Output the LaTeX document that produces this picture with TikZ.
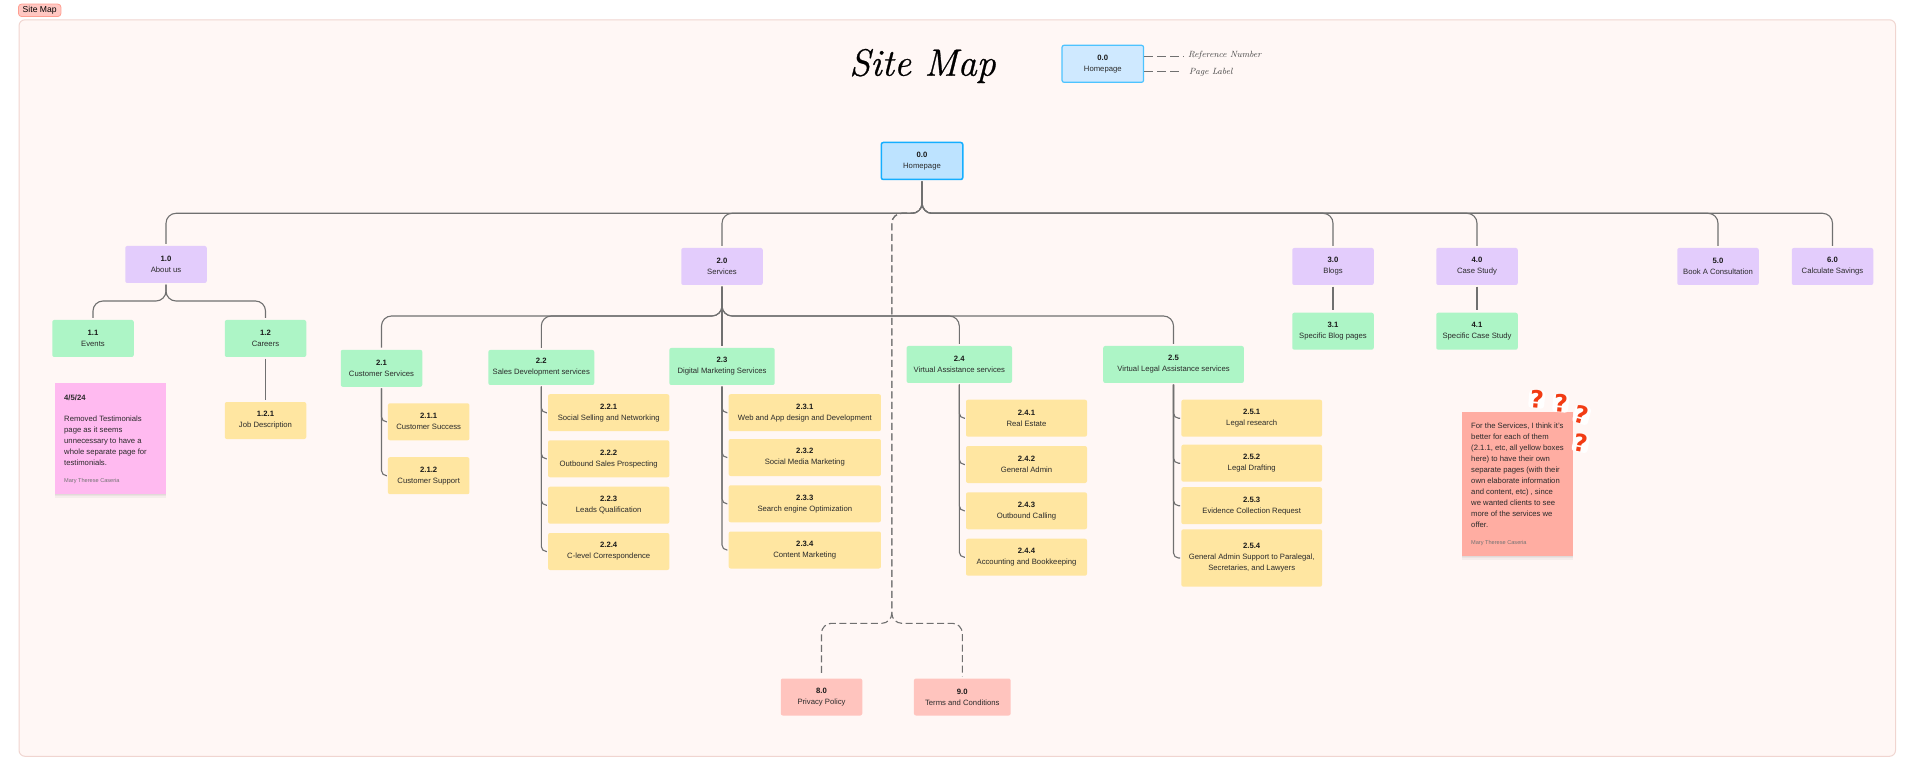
\documentclass[tikz,border=0pt]{standalone}
\usepackage{fontspec}
\usetikzlibrary{shadows}
\setmainfont{Liberation Sans}
\newfontfamily\questfont{DejaVu Sans}
\newfontfamily\titlefont{Latin Modern Roman}[ItalicFeatures={FakeBold=0.7}]
\definecolor{frameFill}{HTML}{FFF7F5}
\definecolor{frameLine}{HTML}{F0D5D0}
\definecolor{cPurple}{HTML}{E3CCFC}
\definecolor{cGreen}{HTML}{ADF5C6}
\definecolor{cYellow}{HTML}{FFE6A1}
\definecolor{cRed}{HTML}{FFC4BE}
\definecolor{cBlue}{HTML}{BDE3FF}
\definecolor{cBlueLine}{HTML}{14AEFF}
\definecolor{cLegend}{HTML}{CFE9FF}
\definecolor{cLegendLine}{HTML}{4DC3FF}
\definecolor{cPink}{HTML}{FFBAF0}
\definecolor{cSalmon}{HTML}{FFADA2}
\definecolor{cTag}{HTML}{FFC7C2}
\definecolor{cTagLine}{HTML}{FF9E90}
\definecolor{cConn}{HTML}{707070}
\definecolor{cQuest}{HTML}{F23C14}
\definecolor{cInk}{HTML}{2B2B2B}
\newcommand{\nm}[1]{{\bfseries\color{black!90}#1}}
\tikzset{
  pagebox/.style={rectangle,rounded corners=2pt,inner sep=0pt,align=center,text=cInk,
    font=\fontsize{7.7}{11}\selectfont,minimum height=37pt,minimum width=81.5pt},
  lvlA/.style={pagebox,fill=cPurple},
  lvlB/.style={pagebox,fill=cGreen},
  lvlC/.style={pagebox,fill=cYellow},
  lvlD/.style={pagebox,fill=cRed},
  conn/.style={draw=cConn,line width=1.1pt,shorten >=2pt,shorten <=1.5pt},
  fork/.style={conn,rounded corners=10pt},
  side/.style={conn,rounded corners=5pt,shorten >=1pt},
  dashconn/.style={fork,dash pattern=on 7pt off 3.5pt},
  legline/.style={draw=cConn,line width=1.1pt,dash pattern=on 9pt off 4pt},
  sticky/.style={rectangle,inner sep=0pt,anchor=north west,
    drop shadow={shadow xshift=0pt,shadow yshift=-1pt,opacity=.04,fill=black},
    drop shadow={shadow xshift=0pt,shadow yshift=-2pt,opacity=.04,fill=black},
    drop shadow={shadow xshift=0pt,shadow yshift=-3.5pt,opacity=.04,fill=black}},
  noteText/.style={anchor=west,inner sep=0pt,align=left,text=cInk,font=\fontsize{7.7}{11}\selectfont},
  noteSign/.style={anchor=west,inner sep=0pt,text=black!55,font=\fontsize{5.6}{7}\selectfont},
  quest/.style={fill=white,rounded corners=3pt,inner xsep=1pt,inner ysep=0pt,text=cQuest,
    font=\questfont\fontsize{24}{24}\bfseries\selectfont},
  hand/.style={inner sep=0pt,text=black!75,font=\fontfamily{lmr}\fontsize{9}{10}\itshape\selectfont}
}
\begin{document}
\begin{tikzpicture}[x=1pt,y=-1pt]
\useasboundingbox (0,0) rectangle (1914,775);
% frame
\node[draw=frameLine,fill=frameFill,line width=1pt,rounded corners=6pt,anchor=north west,inner sep=0pt,
  minimum width=1876.5pt,minimum height=736.5pt] (frame) at (18.5,19.3) {};
\node[draw=cTagLine,fill=cTag,line width=.8pt,rounded corners=3pt,inner sep=0pt,minimum width=42.4pt,minimum height=12.4pt,
  text=black,font=\fontsize{8.6}{10}\selectfont] (tag) at (39.7,10.3) {Site Map};
% title and legend
\node[inner sep=0pt,text=black,font=\titlefont\fontsize{38}{38}\itshape\selectfont] (title) at (922.5,66) {Site Map};
\node[pagebox,fill=cLegend,draw=cLegendLine,line width=1.2pt] (leg) at (1102.8,63.8) {\nm{0.0}\\Homepage};
\node[hand,anchor=west] (lab1) at (1188,55) {Reference Number};
\node[hand,anchor=west] (lab2) at (1189,72) {Page Label};
\coordinate (le1) at (1184,56.7);
\coordinate (le2) at (1181,71.3);
\draw[legline] (leg.east |- le1) -- (le1);
\draw[legline] (leg.east |- le2) -- (le2);
% level 0, 1
\node[pagebox,fill=cBlue,draw=cBlueLine,line width=1.5pt] (hp) at (922,161) {\nm{0.0}\\Homepage};
\node[lvlA] (n10) at (166,264.5) {\nm{1.0}\\About us};
\node[lvlA] (n20) at (722,266.5) {\nm{2.0}\\Services};
\node[lvlA] (n30) at (1333,266.5) {\nm{3.0}\\Blogs};
\node[lvlA] (n40) at (1477,266.5) {\nm{4.0}\\Case Study};
\node[lvlA] (n50) at (1718,266.5) {\nm{5.0}\\Book A Consultation};
\node[lvlA] (n60) at (1832.5,266.5) {\nm{6.0}\\Calculate Savings};
% level 2
\node[lvlB] (n11) at (93,338.5) {\nm{1.1}\\Events};
\node[lvlB] (n12) at (265.5,338.5) {\nm{1.2}\\Careers};
\node[lvlB] (n21) at (381.5,368.3) {\nm{2.1}\\Customer Services};
\node[lvlB,minimum width=106pt,minimum height=35pt] (n22) at (541.3,367.5) {\nm{2.2}\\Sales Development services};
\node[lvlB,minimum width=105.4pt] (n23) at (722,366.5) {\nm{2.3}\\Digital Marketing Services};
\node[lvlB,minimum width=105.4pt] (n24) at (959.3,364.5) {\nm{2.4}\\Virtual Assistance services};
\node[lvlB,minimum width=140.6pt] (n25) at (1173.5,364.5) {\nm{2.5}\\Virtual Legal Assistance services};
\node[lvlB] (n31) at (1333,331.2) {\nm{3.1}\\Specific Blog pages};
\node[lvlB] (n41) at (1477,331.2) {\nm{4.1}\\Specific Case Study};
% level 3
\node[lvlC] (n121) at (265.5,420.5) {\nm{1.2.1}\\Job Description};
\node[lvlC] (n211) at (428.7,421.8) {\nm{2.1.1}\\Customer Success};
\node[lvlC] (n212) at (428.7,475.7) {\nm{2.1.2}\\Customer Support};
\node[lvlC,minimum width=121.3pt] (n221) at (608.7,412.7) {\nm{2.2.1}\\Social Selling and Networking};
\node[lvlC,minimum width=121.3pt] (n222) at (608.7,458.8) {\nm{2.2.2}\\Outbound Sales Prospecting};
\node[lvlC,minimum width=121.3pt] (n223) at (608.7,505.2) {\nm{2.2.3}\\Leads Qualification};
\node[lvlC,minimum width=121.3pt] (n224) at (608.7,551.5) {\nm{2.2.4}\\C-level Correspondence};
\node[lvlC,minimum width=152.3pt] (n231) at (804.8,412.7) {\nm{2.3.1}\\Web and App design and Development};
\node[lvlC,minimum width=152.3pt] (n232) at (804.8,457.5) {\nm{2.3.2}\\Social Media Marketing};
\node[lvlC,minimum width=152.3pt] (n233) at (804.8,503.8) {\nm{2.3.3}\\Search engine Optimization};
\node[lvlC,minimum width=152.3pt] (n234) at (804.8,550) {\nm{2.3.4}\\Content Marketing};
\node[lvlC,minimum width=121pt] (n241) at (1026.5,418.2) {\nm{2.4.1}\\Real Estate};
\node[lvlC,minimum width=121pt] (n242) at (1026.5,464.5) {\nm{2.4.2}\\General Admin};
\node[lvlC,minimum width=121pt] (n243) at (1026.5,510.8) {\nm{2.4.3}\\Outbound Calling};
\node[lvlC,minimum width=121pt] (n244) at (1026.5,557.2) {\nm{2.4.4}\\Accounting and Bookkeeping};
\node[lvlC,minimum width=140.7pt] (n251) at (1251.7,418.2) {\nm{2.5.1}\\Legal research};
\node[lvlC,minimum width=140.7pt] (n252) at (1251.7,463.2) {\nm{2.5.2}\\Legal Drafting};
\node[lvlC,minimum width=140.7pt] (n253) at (1251.7,505.7) {\nm{2.5.3}\\Evidence Collection Request};
\node[lvlC,minimum width=140.7pt,minimum height=57.4pt] (n254) at (1251.7,558) {\nm{2.5.4}\\General Admin Support to Paralegal,\\Secretaries, and Lawyers};
% legal
\node[lvlD] (n80) at (821.5,697) {\nm{8.0}\\Privacy Policy};
\node[lvlD,minimum width=96.7pt] (n90) at (962.3,697) {\nm{9.0}\\Terms and Conditions};
% buses
\coordinate (busTop) at (0,213.3);
\coordinate (busAbout) at (0,301);
\coordinate (busServ) at (0,316);
\coordinate (dashFork) at (891.8,623.3);
% connectors
\foreach \c in {n10,n20,n30,n40,n50,n60}
  \draw[fork] (hp.south) -- (hp.south |- busTop) -| (\c.north);
\foreach \c in {n11,n12}
  \draw[fork] (n10.south) -- (n10.south |- busAbout) -| (\c.north);
\foreach \c in {n21,n22,n24,n25}
  \draw[fork] (n20.south) -- (n20.south |- busServ) -| (\c.north);
\draw[conn] (n20.south) -- (n23.north);
\draw[conn] (n12.south) -- (n121.north);
\draw[conn] (n30.south) -- (n31.north);
\draw[conn] (n40.south) -- (n41.north);
\foreach \c in {n211,n212} \draw[side] (n21.south) |- (\c.west);
\foreach \c in {n221,n222,n223,n224} \draw[side] (n22.south) |- (\c.west);
\foreach \c in {n231,n232,n233,n234} \draw[side] (n23.south) |- (\c.west);
\foreach \c in {n241,n242,n243,n244} \draw[side] (n24.south) |- (\c.west);
\foreach \c in {n251,n252,n253,n254} \draw[side] (n25.south) |- (\c.west);
\foreach \c in {n80,n90}
  \draw[dashconn] (hp.south) -- (hp.south |- busTop) -| (dashFork) -| (\c.north);
% sticky notes
\node[sticky,fill=cPink,minimum width=110.7pt,minimum height=111pt] (noteA) at (55,383) {};
\node[noteText] (noteAdate) at (64,397.7) {\bfseries 4/5/24};
\node[noteText,anchor=north west] (noteAbody) at (64,415.5) {Removed Testimonials\\page as it seems\\unnecessary to have a\\whole separate page for\\testimonials.};
\node[noteSign] (noteAsign) at (64,481) {Mary Therese Caseria};
\node[sticky,fill=cSalmon,minimum width=111pt,minimum height=144pt] (noteB) at (1461.7,412) {};
\node[noteText,anchor=north west] (noteBbody) at (1471,422.5) {For the Services, I think it's\\better for each of them\\(2.1.1, etc, all yellow boxes\\here) to have their own\\separate pages (with their\\own elaborate information\\and content, etc) , since\\we wanted clients to see\\more of the services we\\offer.};
\node[noteSign] (noteBsign) at (1471,543.3) {Mary Therese Caseria};
\node[quest,rotate=-5] (q1) at (1536.7,399.3) {?};
\node[quest,rotate=-5] (q2) at (1560.7,403.3) {?};
\node[quest,rotate=-15] (q3) at (1581.7,415) {?};
\node[quest,rotate=-10] (q4) at (1580.7,443.3) {?};
\end{tikzpicture}
\end{document}
